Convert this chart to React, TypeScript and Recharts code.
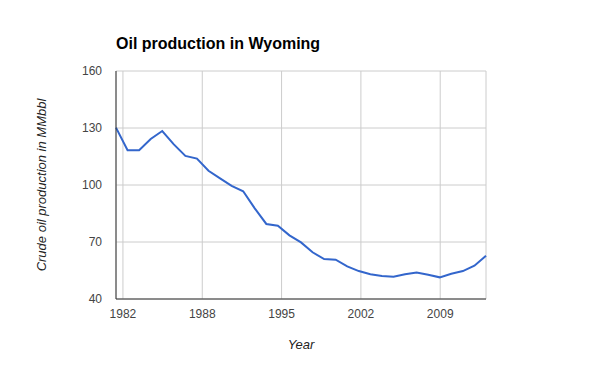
import { LineChart, Line, XAxis, YAxis, CartesianGrid } from 'recharts';

const years = [
  1981, 1982, 1983, 1984, 1985, 1986, 1987, 1988, 1989, 1990, 1991,
  1992, 1993, 1994, 1995, 1996, 1997, 1998, 1999, 2000, 2001, 2002,
  2003, 2004, 2005, 2006, 2007, 2008, 2009, 2010, 2011, 2012, 2013,
];
const production = [
  130.2, 118.3, 118.3, 124.2, 128.4, 121.4, 115.3, 113.9, 107.5, 103.5, 99.5,
  96.7, 87.7, 79.5, 78.6, 73.5, 69.8, 64.6, 61.0, 60.7, 57.2, 54.7,
  53.0, 52.1, 51.7, 53.0, 54.0, 52.8, 51.4, 53.3, 54.7, 57.5, 62.8,
];
const xTicks = [1981.6, 1988.46, 1995.32, 2002.18, 2009.04];
const yTicks = [40, 70, 100, 130, 160];

const data = years.map((year, i) => ({ year, value: production[i] }));

const font = 'Arial, "Liberation Sans", sans-serif';

export default function App() {
  return (
    <div style={{ position: 'absolute', left: 0, top: 0, width: 600, height: 371, fontFamily: font }}>
      <div
        style={{
          position: 'absolute',
          left: 116,
          top: 35,
          fontSize: 16,
          fontWeight: 'bold',
          color: '#000',
          whiteSpace: 'nowrap',
        }}
      >
        Oil production in Wyoming
      </div>
      <div
        style={{
          position: 'absolute',
          left: 41,
          top: 185,
          transform: 'translate(-50%, -50%) rotate(-90deg)',
          fontSize: 13,
          fontStyle: 'italic',
          color: '#222',
          whiteSpace: 'nowrap',
        }}
      >
        Crude oil production in MMbbl
      </div>
      <div
        style={{
          position: 'absolute',
          left: 301,
          top: 337,
          transform: 'translateX(-50%)',
          fontSize: 13,
          fontStyle: 'italic',
          color: '#222',
          whiteSpace: 'nowrap',
        }}
      >
        Year
      </div>
      <LineChart
        width={600}
        height={371}
        data={data}
        margin={{ top: 71, right: 114, bottom: 42, left: 56 }}
      >
        <CartesianGrid stroke="#cccccc" />
        <XAxis
          dataKey="year"
          type="number"
          domain={[1981, 2013]}
          ticks={xTicks}
          tickFormatter={(v: number) => String(Math.round(v))}
          tickLine={false}
          axisLine={{ stroke: '#333333' }}
          tick={{ fill: '#444444', fontSize: 12, fontFamily: font }}
          tickMargin={4}
          height={30}
          interval={0}
        />
        <YAxis
          type="number"
          domain={[40, 160]}
          ticks={yTicks}
          tickLine={false}
          axisLine={{ stroke: '#333333' }}
          tick={{ fill: '#444444', fontSize: 12, fontFamily: font }}
          tickMargin={8}
          width={60}
          interval={0}
        />
        <Line
          type="linear"
          dataKey="value"
          stroke="#3366cc"
          strokeWidth={2}
          dot={false}
          isAnimationActive={false}
        />
      </LineChart>
    </div>
  );
}
